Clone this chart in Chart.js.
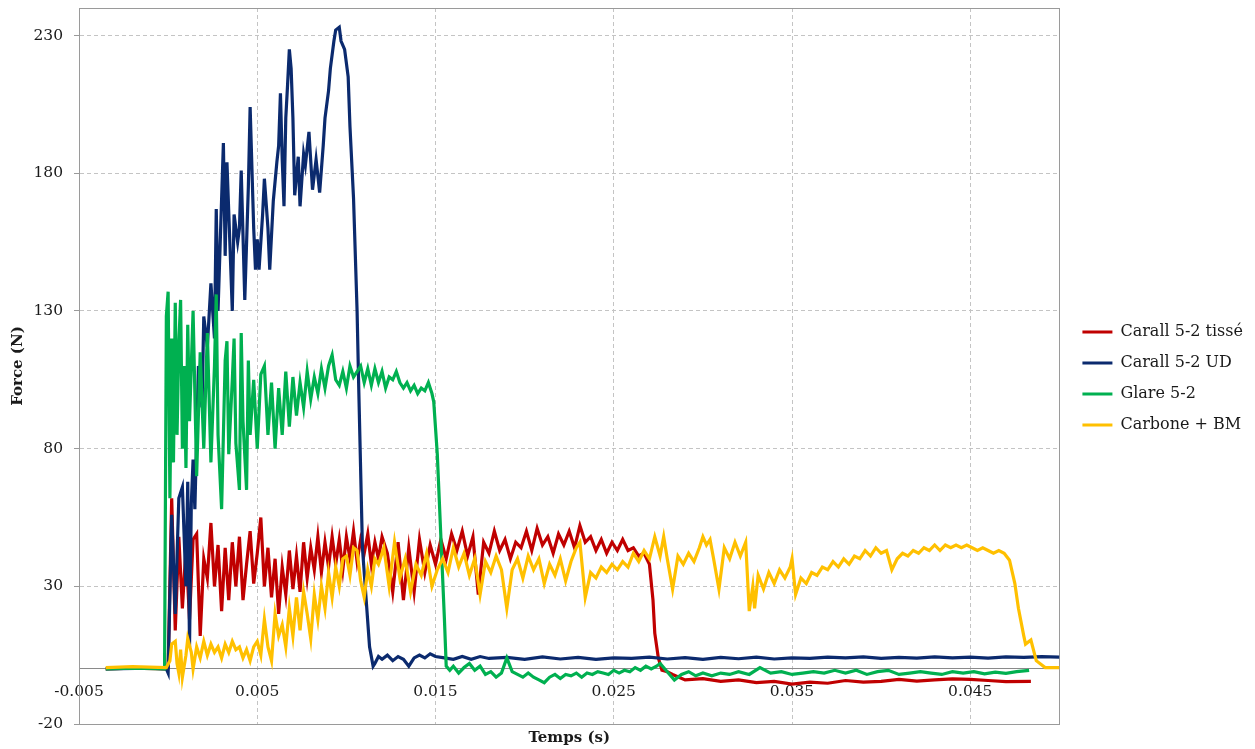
<!DOCTYPE html>
<html>
<head>
<meta charset="utf-8">
<script src="https://cdn.jsdelivr.net/npm/chart.js@4.4.1/dist/chart.umd.min.js"></script>
<style>
html,body{margin:0;padding:0;background:#fff;}
#wrap{width:1255px;height:749px;}
</style>
</head>
<body>
<div id="wrap"><canvas id="c" width="1255" height="749"></canvas></div>
<script>
// ---- Data (time in s, force in N) ----
const seriesNames = ['Carall 5-2 tissé', 'Carall 5-2 UD', 'Glare 5-2', 'Carbone + BM'];
const seriesColors = ['#c00000', '#0b2a6e', '#00b050', '#ffc000'];

const xTickValues = [-0.005, 0.005, 0.015, 0.025, 0.035, 0.045];
const xTickLabels = ['-0.005', '0.005', '0.015', '0.025', '0.035', '0.045'];
const yTickValues = [-20, 30, 80, 130, 180, 230];
const yTickLabels = ['-20', '30', '80', '130', '180', '230'];

const carallTisse = [
[-0.0035,0],[-0.002,0.3],[-0.0001,0],[0.0000,0.5],[0.0002,62],[0.0004,14],[0.0006,48],[0.0008,22],[0.0010,44],
[0.0012,18],[0.0014,47],[0.0016,49],[0.0018,12],[0.0020,40],[0.0022,33],[0.0024,53],[0.0026,30],[0.0028,45],
[0.0030,21],[0.0032,44],[0.0034,25],[0.0036,46],[0.0038,30],[0.0040,48],[0.0042,25],[0.0044,38],[0.0046,50],
[0.0048,31],[0.0050,42],[0.0052,55],[0.0054,30],[0.0056,44],[0.0058,26],[0.0060,40],[0.0062,20],[0.0064,37],
[0.0066,27],[0.0068,43],[0.0070,29],[0.0072,41],[0.0074,28],[0.0076,46],[0.0078,33],[0.0080,44],[0.0082,36],
[0.0084,48],[0.0086,35],[0.0088,46],[0.0090,37],[0.0092,48],[0.0094,38],[0.0096,47],[0.0098,36],[0.0100,48],
[0.0102,40],[0.0104,50],[0.0106,39],[0.0108,47],[0.0110,42],[0.0112,49],[0.0114,38],[0.0116,46],[0.0118,40],
[0.0120,48],[0.0123,42],[0.0126,28],[0.0129,46],[0.0132,25],[0.0135,44],[0.0138,28],[0.0141,47],[0.0144,35],
[0.0147,45],[0.0150,38],[0.0153,47],[0.0156,40],[0.0159,49],[0.0162,43],[0.0165,50],[0.0168,41],[0.0171,48],
[0.0174,27],[0.0177,46],[0.0180,42],[0.0183,50],[0.0186,43],[0.0189,47],[0.0192,40],[0.0195,46],[0.0198,44],
[0.0201,50],[0.0204,43],[0.0207,51],[0.0210,45],[0.0213,48],[0.0216,42],[0.0219,49],[0.0222,45],[0.0225,50],
[0.0228,44],[0.0231,52],[0.0234,46],[0.0237,48],[0.0240,43],[0.0243,47],[0.0246,42],[0.0249,46],[0.0252,43],
[0.0255,47],[0.0258,43],[0.0261,44],[0.0264,41],[0.0267,42],[0.0270,38],[0.0272,25],[0.0273,13],[0.0275,4],
[0.0277,-0.5],[0.0280,-1],[0.0283,-2],[0.0290,-4],[0.0300,-3.5],[0.0310,-4.5],[0.0320,-4],[0.0330,-5],
[0.0340,-4.5],[0.0350,-5.5],[0.0360,-4.8],[0.0370,-5.2],[0.0380,-4.2],[0.0390,-4.8],[0.0400,-4.5],[0.0410,-3.8],
[0.0420,-4.4],[0.0430,-4],[0.0440,-3.6],[0.0450,-3.8],[0.0460,-4.2],[0.0470,-4.6],[0.0484,-4.5]
];

const carallUD = [
[-0.0035,0],[-0.001,0.3],[-0.0001,0],[0.0000,-1.5],[0.0002,56],[0.0004,20],[0.0006,62],[0.0008,66],[0.0010,30],
[0.0011,68],[0.0012,8],[0.0013,60],[0.0014,76],[0.0015,58],[0.0017,110],[0.0019,95],[0.0020,128],[0.0022,117],
[0.0024,140],[0.0026,120],[0.0027,167],[0.0028,130],[0.0031,191],[0.0032,150],[0.0033,184],[0.0036,130],
[0.0037,165],[0.0039,155],[0.0040,160],[0.0041,181],[0.0043,134],[0.0045,175],[0.0046,204],[0.0048,160],
[0.0049,145],[0.0050,156],[0.0051,145],[0.0053,165],[0.0054,178],[0.0056,160],[0.0057,145],[0.0059,170],
[0.0061,184],[0.0062,190],[0.0063,209],[0.0064,185],[0.0065,168],[0.0066,200],[0.0067,212],[0.0068,225],
[0.0069,218],[0.0070,200],[0.0071,172],[0.0073,186],[0.0074,168],[0.0076,187],[0.0077,183],[0.0079,195],
[0.0081,174],[0.0083,185],[0.0085,173],[0.0087,190],[0.0088,200],[0.0090,210],[0.0091,218],[0.0093,228],
[0.0094,232],[0.0096,233],[0.0097,228],[0.0099,225],[0.0101,215],[0.0102,197],[0.0104,171],[0.0106,130],
[0.0107,100],[0.0109,44],[0.0113,8],[0.0115,1],[0.0116,2],[0.0118,4.5],[0.0120,3.5],[0.0123,5],[0.0126,3],
[0.0129,4.5],[0.0132,3.5],[0.0135,1],[0.0138,4],[0.0141,5],[0.0144,4],[0.0147,5.5],[0.0150,4.5],[0.0155,4],
[0.0160,3.5],[0.0165,4.5],[0.0170,3.5],[0.0175,4.5],[0.0180,3.8],[0.0190,4.2],[0.0200,3.5],[0.0210,4.4],
[0.0220,3.6],[0.0230,4.2],[0.0240,3.5],[0.0250,4],[0.0260,3.8],[0.0270,4.3],[0.0280,3.6],[0.0290,4.1],
[0.0300,3.5],[0.0310,4.2],[0.0320,3.7],[0.0330,4.3],[0.0340,3.6],[0.0350,4],[0.0360,3.8],[0.0370,4.3],
[0.0380,4],[0.0390,4.4],[0.0400,3.8],[0.0410,4.2],[0.0420,3.9],[0.0430,4.4],[0.0440,4],[0.0450,4.3],
[0.0460,3.9],[0.0470,4.4],[0.0480,4.2],[0.0490,4.5],[0.0500,4.3]
];

const glare = [
[-0.0035,0],[-0.002,0.3],[-0.0002,0],[-0.0001,128],[0.0000,137],[0.0001,62],[0.0002,120],[0.0003,75],[0.0004,133],
[0.0005,85],[0.0006,118],[0.0007,134],[0.0008,80],[0.0009,110],[0.0010,73],[0.0011,125],[0.0012,90],[0.0014,130],
[0.0016,70],[0.0018,115],[0.0020,80],[0.0022,122],[0.0024,75],[0.0026,110],[0.0027,136],[0.0028,85],[0.0030,58],
[0.0032,112],[0.0033,119],[0.0034,78],[0.0036,105],[0.0037,120],[0.0038,82],[0.0040,65],[0.0041,122],[0.0042,90],
[0.0044,65],[0.0045,112],[0.0046,85],[0.0048,105],[0.0050,80],[0.0052,107],[0.0054,110],[0.0056,85],[0.0058,104],
[0.0060,80],[0.0062,102],[0.0064,85],[0.0066,108],[0.0068,88],[0.0070,106],[0.0072,92],[0.0074,104],[0.0076,95],
[0.0078,108],[0.0080,98],[0.0082,106],[0.0084,100],[0.0086,109],[0.0088,102],[0.0090,110],[0.0092,114],[0.0094,105],
[0.0096,103],[0.0098,108],[0.0100,102],[0.0102,110],[0.0104,106],[0.0106,108],[0.0108,110],[0.0110,104],[0.0112,109],
[0.0114,103],[0.0116,109],[0.0118,104],[0.0120,108],[0.0122,102],[0.0124,106],[0.0126,105],[0.0128,108],[0.0130,104],
[0.0132,102],[0.0134,104],[0.0136,101],[0.0138,103],[0.0140,100],[0.0142,102],[0.0144,101],[0.0146,104],[0.0148,100],
[0.0149,97],[0.0151,78],[0.0153,48],[0.0155,18],[0.0156,1],[0.0158,-0.5],[0.0160,1],[0.0163,-1.5],[0.0166,0.5],
[0.0169,2],[0.0172,-0.5],[0.0175,1],[0.0178,-2],[0.0181,-1],[0.0184,-3],[0.0187,-1.5],[0.0190,4],[0.0193,-1],
[0.0196,-2],[0.0199,-3],[0.0202,-1.5],[0.0205,-3],[0.0208,-4],[0.0211,-5],[0.0214,-3],[0.0217,-2],[0.0220,-3.5],
[0.0223,-2],[0.0226,-2.5],[0.0229,-1.5],[0.0232,-3],[0.0235,-1.5],[0.0238,-2],[0.0241,-1],[0.0244,-1.5],[0.0247,-2],
[0.0250,-0.5],[0.0253,-1.5],[0.0256,-0.5],[0.0259,-1],[0.0262,0.5],[0.0265,-0.5],[0.0268,1],[0.0271,0],[0.0274,1],
[0.0276,2],[0.0280,-1],[0.0284,-4],[0.0288,-2],[0.0292,-1],[0.0296,-2.5],[0.0300,-1.5],[0.0305,-2.5],[0.0310,-1.5],
[0.0315,-2],[0.0320,-1],[0.0326,-2],[0.0332,0.5],[0.0338,-1.5],[0.0344,-1],[0.0350,-2],[0.0356,-1.5],[0.0362,-1],
[0.0368,-1.5],[0.0374,-0.5],[0.0380,-1.5],[0.0386,-0.5],[0.0392,-2],[0.0398,-1],[0.0404,-0.5],[0.0410,-2],
[0.0416,-1.5],[0.0422,-1],[0.0428,-1.5],[0.0434,-2],[0.0440,-1],[0.0446,-1.5],[0.0452,-1],[0.0458,-1.8],
[0.0464,-1.2],[0.0470,-1.6],[0.0476,-1],[0.0483,-0.5]
];

const carboneBM = [
[-0.0035,0.5],[-0.002,0.8],[-0.0001,0.5],[0.0001,3],[0.0002,9],[0.0004,10],[0.0005,2],[0.0006,-1.5],[0.0007,7],
[0.0008,-3],[0.0010,5],[0.0011,11],[0.0013,6],[0.0014,0],[0.0016,8],[0.0018,4],[0.0020,10],[0.0022,5],[0.0024,9],
[0.0026,6],[0.0028,8],[0.0030,4],[0.0032,9],[0.0034,6],[0.0036,10],[0.0038,7],[0.0040,8],[0.0042,4],[0.0044,7],
[0.0046,3],[0.0048,8],[0.0050,10],[0.0052,5],[0.0054,18],[0.0056,8],[0.0058,3],[0.0060,20],[0.0062,12],[0.0064,16],
[0.0066,8],[0.0068,22],[0.0070,12],[0.0072,26],[0.0074,14],[0.0076,28],[0.0078,20],[0.0080,11],[0.0082,27],
[0.0084,18],[0.0086,30],[0.0088,22],[0.0090,35],[0.0092,26],[0.0094,37],[0.0096,30],[0.0098,40],[0.0100,41],
[0.0102,34],[0.0104,44],[0.0106,43],[0.0108,32],[0.0110,26],[0.0112,36],[0.0114,30],[0.0116,40],[0.0118,38],
[0.0121,44],[0.0124,30],[0.0127,46],[0.0130,33],[0.0133,40],[0.0136,28],[0.0139,38],[0.0142,34],[0.0145,42],
[0.0148,30],[0.0151,36],[0.0154,40],[0.0157,35],[0.0160,44],[0.0163,37],[0.0166,42],[0.0169,34],[0.0172,40],
[0.0175,27],[0.0178,39],[0.0181,35],[0.0184,41],[0.0187,36],[0.0190,22],[0.0193,36],[0.0196,40],[0.0199,33],
[0.0202,41],[0.0205,36],[0.0208,40],[0.0211,31],[0.0214,38],[0.0217,34],[0.0220,40],[0.0223,32],[0.0226,39],
[0.0229,44],[0.0231,46],[0.0234,26],[0.0237,35],[0.0240,33],[0.0243,37],[0.0246,35],[0.0249,38],[0.0252,36],
[0.0255,39],[0.0258,37],[0.0261,42],[0.0264,39],[0.0267,43],[0.0270,40],[0.0273,48],[0.0276,41],[0.0278,48],
[0.0280,40],[0.0283,29],[0.0286,41],[0.0289,38],[0.0292,42],[0.0295,39],[0.0298,44],[0.0300,48],[0.0302,45],
[0.0304,47],[0.0306,40],[0.0309,29],[0.0312,44],[0.0315,40],[0.0318,46],[0.0321,41],[0.0324,46],[0.0326,21],
[0.0328,30],[0.0329,22],[0.0331,34],[0.0334,29],[0.0337,35],[0.0340,31],[0.0343,36],[0.0346,33],[0.0349,37],
[0.0350,40],[0.0352,27],[0.0355,33],[0.0358,31],[0.0361,35],[0.0364,34],[0.0367,37],[0.0370,36],[0.0373,39],
[0.0376,37],[0.0379,40],[0.0382,38],[0.0385,41],[0.0388,40],[0.0391,43],[0.0394,41],[0.0397,44],[0.0400,42],
[0.0403,43],[0.0406,36],[0.0409,40],[0.0412,42],[0.0415,41],[0.0418,43],[0.0421,42],[0.0424,44],[0.0427,43],
[0.0430,45],[0.0433,43],[0.0436,45],[0.0439,44],[0.0442,45],[0.0445,44],[0.0448,45],[0.0451,44],[0.0454,43],
[0.0457,44],[0.0460,43],[0.0463,42],[0.0466,43],[0.0469,42],[0.0472,39.5],[0.0475,31],[0.0477,22],[0.0480,12],
[0.0481,9],[0.0484,10.5],[0.0487,3],[0.0492,0.5],[0.0500,0.5]
];

const seriesData = [carallTisse, carallUD, glare, carboneBM];

// ---- Chart ----
const FONT = "'DejaVu Serif', serif";
const gridColor = '#c4c4c4';
const frameColor = '#9a9a9a';

const framePlugin = {
  id: 'frame',
  beforeDatasetsDraw(chart) {
    const a = chart.chartArea, ctx = chart.ctx;
    ctx.save();
    ctx.strokeStyle = frameColor;
    ctx.lineWidth = 1;
    ctx.strokeRect(Math.round(a.left) + 0.5, Math.round(a.top) + 0.5, Math.round(a.right - a.left), Math.round(a.bottom - a.top));
    ctx.restore();
  }
};

const datasets = seriesData.map((pts, i) => ({
  label: seriesNames[i],
  data: pts.map(p => ({x: p[0], y: p[1]})),
  borderColor: seriesColors[i],
  backgroundColor: seriesColors[i],
  borderWidth: 3.2,
  pointRadius: 0,
  tension: 0,
  order: 4 - i,
  xAxisID: 'x',
  yAxisID: 'y'
}));

new Chart(document.getElementById('c'), {
  type: 'line',
  data: {datasets},
  plugins: [framePlugin],
  options: {
    responsive: false,
    animation: false,
    devicePixelRatio: 1,
    layout: {padding: {top: 8, right: 2, bottom: 0, left: 0}},
    plugins: {
      tooltip: {enabled: false},
      legend: {
        position: 'right',
        align: 'center',
        labels: {
          boxWidth: 30,
          boxHeight: 3,
          padding: 15,
          color: '#1a1a1a',
          font: {family: FONT, size: 16},
          generateLabels(chart) {
            const items = Chart.defaults.plugins.legend.labels.generateLabels(chart);
            items.forEach(it => { it.lineWidth = 0; it.fillStyle = it.strokeStyle; });
            items.sort((a, b) => a.datasetIndex - b.datasetIndex);
            return items;
          }
        }
      }
    },
    scales: {
      x: {
        type: 'linear',
        position: 'bottom',
        min: -0.005,
        max: 0.05,
        afterBuildTicks(s) { s.ticks = xTickValues.map(v => ({value: v})); },
        afterFit(s) { s.height = 25; s.paddingLeft = 0; s.paddingRight = 0; },
        ticks: {display: false},
        grid: {color: gridColor, lineWidth: 1, drawTicks: false},
        border: {display: true, color: frameColor, dash: [4, 3]},
        title: {display: true, text: 'Temps (s)', color: '#1a1a1a', font: {family: FONT, size: 15, weight: 'bold'}, padding: {top: 0, bottom: 2}}
      },
      x2: {
        type: 'linear',
        position: {y: 0},
        min: -0.005,
        max: 0.05,
        afterBuildTicks(s) { s.ticks = xTickValues.map(v => ({value: v})); },
        ticks: {
          color: '#1a1a1a',
          font: {family: FONT, size: 15.5},
          padding: 14,
          maxRotation: 0,
          autoSkip: false,
          callback(v, i) { return xTickLabels[i]; }
        },
        grid: {drawOnChartArea: false, drawTicks: false},
        border: {display: true, color: '#8a8a8a', width: 1}
      },
      y: {
        type: 'linear',
        position: 'left',
        min: -20,
        max: 240,
        afterBuildTicks(s) { s.ticks = yTickValues.map(v => ({value: v})); },
        afterFit(s) { s.width = 79; s.paddingTop = 0; s.paddingBottom = 0; },
        ticks: {
          color: '#1a1a1a',
          font: {family: FONT, size: 15.5},
          padding: 11,
          callback(v, i) { return yTickLabels[i]; }
        },
        grid: {color: gridColor, lineWidth: 1, drawTicks: true, tickLength: 5, tickColor: frameColor, tickBorderDash: []},
        border: {display: true, color: frameColor, dash: [4, 3]},
        title: {display: true, text: 'Force (N)', color: '#1a1a1a', font: {family: FONT, size: 15, weight: 'bold'}, padding: {top: 9, bottom: 0}}
      },
      yR: {
        type: 'linear',
        position: 'right',
        min: 0,
        max: 1,
        afterFit(s) { s.width = 8; },
        ticks: {display: false},
        grid: {display: false, drawTicks: false},
        border: {display: false}
      }
    }
  }
});
</script>
</body>
</html>
